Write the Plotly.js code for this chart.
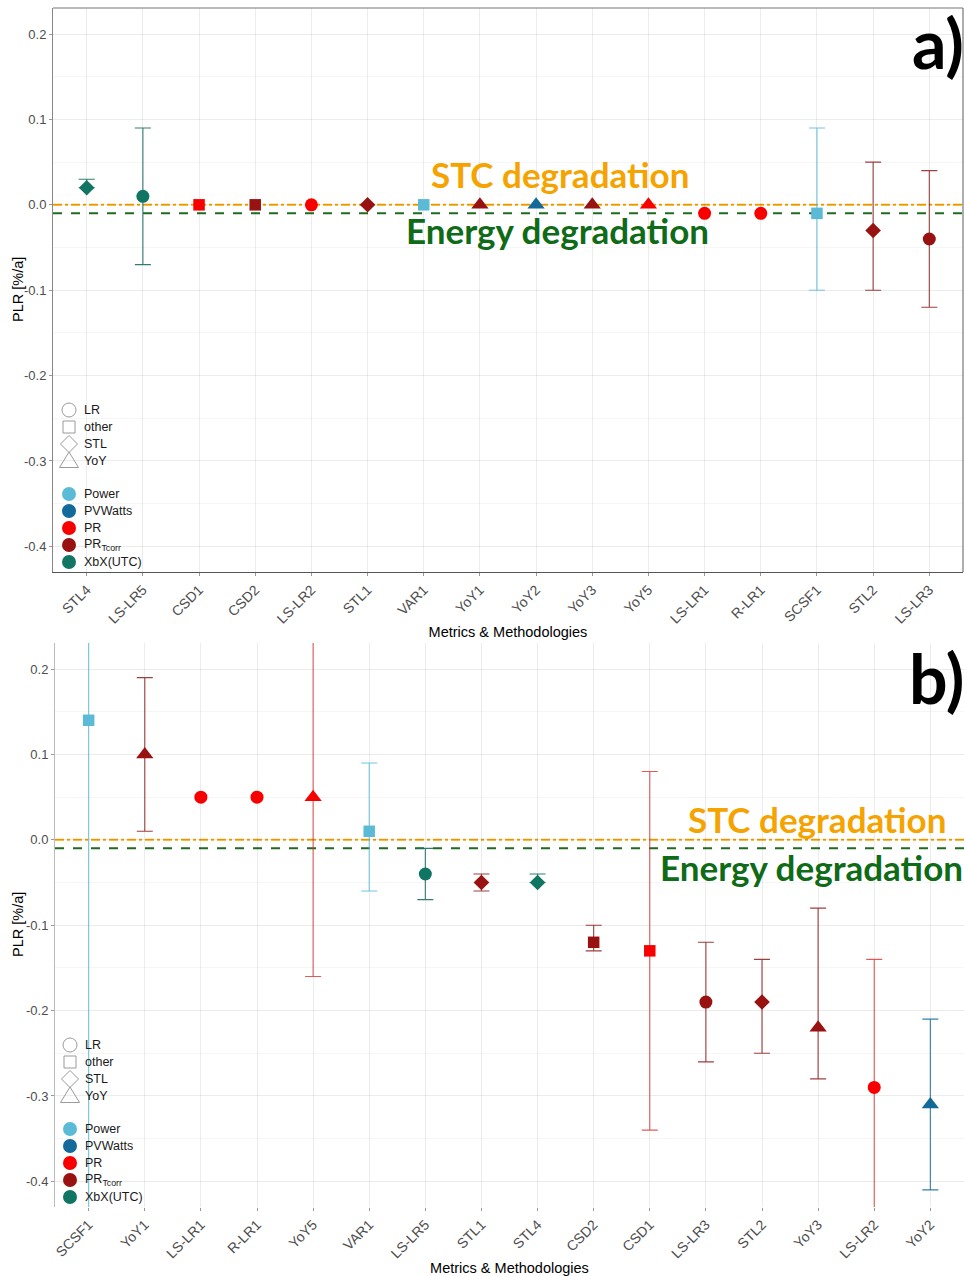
<!DOCTYPE html>
<html>
<head>
<meta charset="utf-8">
<script src="https://cdn.plot.ly/plotly-3.0.1.min.js"></script>
<style>html,body{margin:0;padding:0;background:#fff}</style>
</head>
<body>
<div id="chart" style="width:964px;height:1276px"></div>
<script>
// ---------- DATA (panel a) ----------
const catsA   = ['STL4','LS-LR5','CSD1','CSD2','LS-LR2','STL1','VAR1','YoY1','YoY2','YoY3','YoY5','LS-LR1','R-LR1','SCSF1','STL2','LS-LR3'];
const plrA    = [0.02, 0.01, 0.0, 0.0, 0.0, 0.0, 0.0, 0.0, 0.0, 0.0, 0.0, -0.01, -0.01, -0.01, -0.03, -0.04];
const upperA  = [0.03, 0.09, null, null, null, null, null, null, null, null, null, null, null, 0.09, 0.05, 0.04];
const lowerA  = [0.02, -0.07, null, null, null, null, null, null, null, null, null, null, null, -0.10, -0.10, -0.12];
const methodA = ['STL','LR','other','other','LR','STL','other','YoY','YoY','YoY','YoY','LR','LR','other','STL','LR'];
const metricA = ['XbX','XbX','PR','PRTcorr','PR','PRTcorr','Power','PRTcorr','PVWatts','PRTcorr','PR','PR','PR','Power','PRTcorr','PRTcorr'];

// ---------- DATA (panel b) ----------
const catsB   = ['SCSF1','YoY1','LS-LR1','R-LR1','YoY5','VAR1','LS-LR5','STL1','STL4','CSD2','CSD1','LS-LR3','STL2','YoY3','LS-LR2','YoY2'];
const plrB    = [0.14, 0.10, 0.05, 0.05, 0.05, 0.01, -0.04, -0.05, -0.05, -0.12, -0.13, -0.19, -0.19, -0.22, -0.29, -0.31];
const upperB  = [0.30, 0.19, null, null, 0.30, 0.09, -0.01, -0.04, -0.04, -0.10, 0.08, -0.12, -0.14, -0.08, -0.14, -0.21];
const lowerB  = [-0.50, 0.01, null, null, -0.16, -0.06, -0.07, -0.06, -0.05, -0.13, -0.34, -0.26, -0.25, -0.28, -0.50, -0.41];
const methodB = ['other','YoY','LR','LR','YoY','other','LR','STL','STL','other','other','LR','STL','YoY','LR','YoY'];
const metricB = ['Power','PRTcorr','PR','PR','PR','Power','XbX','PRTcorr','XbX','PRTcorr','PR','PRTcorr','PRTcorr','PRTcorr','PR','PVWatts'];

// reference lines
const stcDeg = 0.0;
const energyDeg = -0.01;

// tick labels
const yTickVals = [-0.4, -0.3, -0.2, -0.1, 0.0, 0.1, 0.2];
const yTickText = ['-0.4', '-0.3', '-0.2', '-0.1', '0.0', '0.1', '0.2'];

// legend entries
const methodNames = ['LR', 'other', 'STL', 'YoY'];
const metricNames = ['Power', 'PVWatts', 'PR', 'PRTcorr', 'XbX'];
const metricLabels = {Power: 'Power', PVWatts: 'PVWatts', PR: 'PR', PRTcorr: 'PR<sub>Tcorr</sub>', XbX: 'XbX(UTC)'};

// ---------- STYLES ----------
const metricColor = {Power: '#5BBAD6', PVWatts: '#12699A', PR: '#F80000', PRTcorr: '#981212', XbX: '#117564'};
const errColor = {Power: 'rgba(91,186,214,0.85)', PVWatts: 'rgba(18,105,154,0.85)', PR: 'rgba(215,50,50,0.8)', PRTcorr: 'rgba(140,30,30,0.85)', XbX: 'rgba(30,110,95,0.9)'};
const methodSymbol = {LR: 'circle', other: 'square', STL: 'diamond', YoY: 'triangle-up'};
const methodSize = {LR: 13, other: 11.5, STL: 12, YoY: 15};

const W = 964, H = 1276;
const px = v => v / W;
const py = v => 1 - v / H;

function buildTraces(cats, vals, up, lo, meth, metr, xa, ya) {
  const traces = [];
  metricNames.forEach(m => {
    [true, false].forEach(withErr => {
      const idx = [];
      metr.forEach((v, i) => { if (v === m && ((up[i] !== null) === withErr)) idx.push(i); });
      if (!idx.length) return;
      const tr = {
        type: 'scatter', mode: 'markers', xaxis: xa, yaxis: ya, showlegend: false, name: m,
        x: idx.map(i => cats[i]),
        y: idx.map(i => vals[i]),
        marker: {
          color: metricColor[m], opacity: 1,
          symbol: idx.map(i => methodSymbol[meth[i]]),
          size: idx.map(i => methodSize[meth[i]]),
          line: {width: 0}
        }
      };
      if (withErr) {
        tr.error_y = {
          type: 'data', symmetric: false,
          array: idx.map(i => +(up[i] - vals[i]).toFixed(4)),
          arrayminus: idx.map(i => +(vals[i] - lo[i]).toFixed(4)),
          color: errColor[m], thickness: 1.1, width: 8
        };
      }
      traces.push(tr);
    });
  });
  return traces;
}

const data = [].concat(
  buildTraces(catsA, plrA, upperA, lowerA, methodA, metricA, 'x', 'y'),
  buildTraces(catsB, plrB, upperB, lowerB, methodB, metricB, 'x2', 'y2')
);

const tickFont = {family: 'Liberation Sans, Arial, sans-serif', size: 13, color: '#4D4D4D'};
const xTickFont = {family: 'Liberation Sans, Arial, sans-serif', size: 14, color: '#4D4D4D'};
const titleFont = {family: 'Liberation Sans, Arial, sans-serif', size: 14.5, color: '#000'};
const gridCol = 'rgba(0,0,0,0.075)';
const minorGridCol = 'rgba(0,0,0,0.035)';

function xAxis(cats, domain, anchor, showline, linecolor, standoff) {
  return {
    domain: domain, anchor: anchor, type: 'category',
    categoryorder: 'array', categoryarray: cats,
    range: [-0.6, cats.length - 0.4],
    tickangle: -45, tickfont: xTickFont,
    ticks: 'outside', ticklen: 3, tickcolor: '#999',
    showgrid: true, gridcolor: gridCol, gridwidth: 1,
    showline: showline, linecolor: linecolor, linewidth: 1.2,
    zeroline: false,
    title: {text: 'Metrics & Methodologies', font: titleFont, standoff: standoff}
  };
}
function yAxis(domain, anchor, linecolor) {
  return {
    domain: domain, anchor: anchor,
    range: [-0.43, 0.2305],
    tickmode: 'array', tickvals: yTickVals, ticktext: yTickText,
    tickfont: tickFont, ticks: 'outside', ticklen: 3, tickcolor: '#999',
    showgrid: true, gridcolor: gridCol, gridwidth: 1,
    minor: {tickmode: 'linear', tick0: 0.05, dtick: 0.1, showgrid: true, gridcolor: minorGridCol, gridwidth: 1, ticks: ''},
    showline: true, linecolor: linecolor, linewidth: 1,
    zeroline: false
  };
}

const shapes = [];
const annotations = [];

// reference lines (beneath the markers)
[['x', 'y'], ['x2', 'y2']].forEach(([xa, ya]) => {
  shapes.push({type: 'line', layer: 'below', xref: xa + ' domain', yref: ya, x0: 0, x1: 1, y0: stcDeg, y1: stcDeg,
    line: {color: '#F5A500', width: 2, dash: 'dashdot'}});
  shapes.push({type: 'line', layer: 'below', xref: xa + ' domain', yref: ya, x0: 0, x1: 1, y0: energyDeg, y1: energyDeg,
    line: {color: '#1F6B1F', width: 2, dash: 'dash'}});
});
// top and right border of panel a
shapes.push({type: 'line', xref: 'x domain', yref: 'y domain', x0: 0, x1: 1, y0: 1, y1: 1, line: {color: '#777', width: 1.2}});
shapes.push({type: 'line', xref: 'x domain', yref: 'y domain', x0: 1, x1: 1, y0: 0, y1: 1, line: {color: '#777', width: 1.2}});

// y axis titles
['y', 'y2'].forEach(ya => {
  annotations.push({xref: 'paper', yref: ya + ' domain', x: px(18), y: 0.5, text: 'PLR [%/a]', textangle: -90, showarrow: false,
    xanchor: 'center', yanchor: 'middle', font: titleFont});
});

// degradation labels
const degFont = (c) => ({family: 'Lato, Open Sans, sans-serif', size: 35, color: c});
annotations.push({xref: 'paper', yref: 'y', x: px(560), y: 0.036, text: '<b>STC degradation</b>', showarrow: false, font: degFont('#F5A300'), xanchor: 'center', yanchor: 'middle'});
annotations.push({xref: 'paper', yref: 'y', x: px(557), y: -0.029, text: '<b>Energy degradation</b>', showarrow: false, font: degFont('#0F6B17'), xanchor: 'center', yanchor: 'middle'});
annotations.push({xref: 'paper', yref: 'y2', x: px(817), y: 0.024, text: '<b>STC degradation</b>', showarrow: false, font: degFont('#F5A300'), xanchor: 'center', yanchor: 'middle'});
annotations.push({xref: 'paper', yref: 'y2', x: px(965), y: -0.032, text: '<b>Energy degradation</b>', showarrow: false, font: degFont('#0F6B17'), xanchor: 'right', yanchor: 'middle'});

// panel letters
annotations.push({xref: 'paper', yref: 'paper', x: px(966), y: py(42), text: '<b>a)</b>', showarrow: false, font: {family: 'Lato, Open Sans, sans-serif', size: 68, color: '#000'}, xanchor: 'right', yanchor: 'middle'});
annotations.push({xref: 'paper', yref: 'paper', x: px(966), y: py(677), text: '<b>b)</b>', showarrow: false, font: {family: 'Lato, Open Sans, sans-serif', size: 68, color: '#000'}, xanchor: 'right', yanchor: 'middle'});

// custom legends drawn with shapes and text
function legend(symX, textX, methodYs, metricYs) {
  const r = 7;
  methodNames.forEach((m, i) => {
    const cy = methodYs[i];
    const ln = {color: '#9A9A9A', width: 1};
    if (m === 'LR') {
      shapes.push({type: 'circle', xref: 'paper', yref: 'paper', x0: px(symX - r), x1: px(symX + r), y0: py(cy + r), y1: py(cy - r), line: ln, fillcolor: 'rgba(0,0,0,0)'});
    } else if (m === 'other') {
      shapes.push({type: 'rect', xref: 'paper', yref: 'paper', x0: px(symX - 6), x1: px(symX + 6), y0: py(cy + 6), y1: py(cy - 6), line: ln, fillcolor: 'rgba(0,0,0,0)'});
    } else if (m === 'STL') {
      const d = 8.5;
      shapes.push({type: 'path', xref: 'paper', yref: 'paper',
        path: `M ${px(symX)} ${py(cy - d)} L ${px(symX + d)} ${py(cy)} L ${px(symX)} ${py(cy + d)} L ${px(symX - d)} ${py(cy)} Z`, line: ln});
    } else {
      const h = 9, w = 9.5;
      shapes.push({type: 'path', xref: 'paper', yref: 'paper',
        path: `M ${px(symX)} ${py(cy - h)} L ${px(symX + w)} ${py(cy + 6.5)} L ${px(symX - w)} ${py(cy + 6.5)} Z`, line: ln});
    }
    annotations.push({xref: 'paper', yref: 'paper', x: px(textX), y: py(cy), text: m, showarrow: false, xanchor: 'left', yanchor: 'middle',
      font: {family: 'Liberation Sans, Arial, sans-serif', size: 12.5, color: '#1A1A1A'}});
  });
  metricNames.forEach((m, i) => {
    const cy = metricYs[i];
    shapes.push({type: 'circle', xref: 'paper', yref: 'paper', x0: px(symX - r), x1: px(symX + r), y0: py(cy + r), y1: py(cy - r), line: {width: 0}, fillcolor: metricColor[m]});
    annotations.push({xref: 'paper', yref: 'paper', x: px(textX), y: py(cy), text: metricLabels[m], showarrow: false, xanchor: 'left', yanchor: 'middle',
      font: {family: 'Liberation Sans, Arial, sans-serif', size: 12.5, color: '#1A1A1A'}});
  });
}
legend(69, 82, [410, 427, 444, 461], [494, 511, 528, 545, 562]);
legend(70, 83, [1045, 1062, 1079, 1096], [1129, 1146, 1163, 1180, 1197]);

const layout = {
  width: W, height: H,
  margin: {l: 0, r: 0, t: 0, b: 0},
  paper_bgcolor: '#fff', plot_bgcolor: 'rgba(0,0,0,0)',
  showlegend: false,
  xaxis: xAxis(catsA, [px(53), px(963)], 'y', true, '#555', 1),
  yaxis: yAxis([1 - 572 / H, 1 - 8 / H], 'x', '#888'),
  xaxis2: xAxis(catsB, [px(55), 1], 'y2', false, '#888', 1),
  yaxis2: yAxis([1 - 1207 / H, 1 - 643 / H], 'x2', '#BBB'),
  shapes: shapes,
  annotations: annotations
};

Plotly.newPlot('chart', data, layout, {displayModeBar: false, staticPlot: true});
</script>
</body>
</html>
